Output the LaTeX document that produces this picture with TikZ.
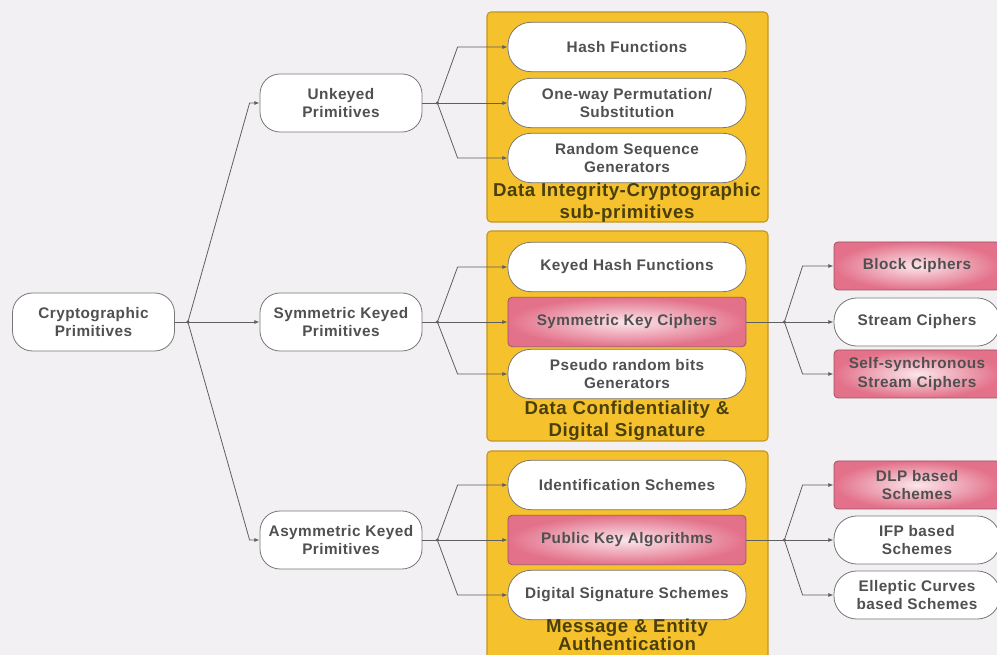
\documentclass[tikz,border=0pt]{standalone}
\usepackage{fontspec}
\setmainfont{Liberation Sans}[LetterSpace=3]
\usetikzlibrary{arrows.meta,calc}
\definecolor{bggray}{HTML}{F3F0F3}
\definecolor{boxline}{HTML}{777777}
\definecolor{txtgray}{HTML}{505050}
\definecolor{grpyellow}{HTML}{F5C12C}
\definecolor{grpline}{HTML}{C3951F}
\definecolor{grptext}{HTML}{4A3F0C}
\definecolor{keypink}{HTML}{E3718A}
\definecolor{keylight}{HTML}{FBE6EB}
\tikzset{
    every node/.style={font=\bfseries\fontsize{11.5}{14}\selectfont,text=txtgray,align=center},
    prim/.style={rectangle,rounded corners=15pt,draw=boxline,fill=white,semithick,minimum width=121.5pt,minimum height=43.5pt,inner sep=2pt},
    sub/.style={prim,rounded corners=17pt,minimum width=178.5pt,minimum height=37pt},
    keyed/.style={sub,rounded corners=3pt,draw=keypink!70!black,inner color=keylight,outer color=keypink},
    leaf/.style={prim,rounded corners=17pt,minimum width=124.5pt,minimum height=36pt},
    leafkey/.style={leaf,rounded corners=3pt,draw=keypink!70!black,inner color=keylight,outer color=keypink},
    group/.style={rectangle,rounded corners=3pt,draw=grpline,fill=grpyellow,thick,minimum width=210.75pt,minimum height=157.5pt},
    grplabel/.style={font=\bfseries\fontsize{14}{16.5}\selectfont,text=grptext},
    link/.style={draw=boxline!80!black,semithick},
    arr/.style={link,-{Latex[length=4pt,width=3pt]}},
    joint/.style={circle,fill=boxline!80!black,inner sep=0pt,minimum size=2.5pt}
}
\begin{document}
\begin{tikzpicture}[x=0.75pt,y=-0.75pt]
\fill[bggray] (0,0) rectangle (997,655);
\useasboundingbox (0,0) rectangle (997,655);

% yellow groups
\node[group] (g1) at (627.5,117) {};
\node[group] (g2) at (627.5,336) {};
\node[group] (g3) at (627.5,556) {};

% primitives
\node[prim] (root) at (93.5,322) {Cryptographic\\Primitives};
\node[prim] (unk) at (341,103) {Unkeyed\\Primitives};
\node[prim] (sym) at (341,322) {Symmetric Keyed\\Primitives};
\node[prim] (asym) at (341,540) {Asymmetric Keyed\\Primitives};

% sub-primitives
\node[sub] (hash) at (627,47) {Hash Functions};
\node[sub] (owp) at (627,103) {One-way Permutation/\\Substitution};
\node[sub] (rsg) at (627,158) {Random Sequence\\Generators};
\node[sub] (khash) at (627,267) {Keyed Hash Functions};
\node[keyed] (skc) at (627,322) {Symmetric Key Ciphers};
\node[sub] (prbg) at (627,374) {Pseudo random bits\\Generators};
\node[sub] (ids) at (627,485) {Identification Schemes};
\node[keyed] (pka) at (627,540) {Public Key Algorithms};
\node[sub] (dss) at (627,595) {Digital Signature Schemes};

\node[grplabel] (g1lab) at (627,203) {Data Integrity-Cryptographic\\sub-primitives};
\node[grplabel] (g2lab) at (627,421) {Data Confidentiality \&\\Digital Signature};
\node[grplabel,font=\bfseries\fontsize{14}{13.5}\selectfont] (g3lab) at (627,635) {Message \& Entity\\Authentication};

% leaves
\node[leafkey] (block) at (917,266) {Block Ciphers};
\node[leaf] (stream) at (917,322) {Stream Ciphers};
\node[leafkey] (selfsync) at (917,374) {Self-synchronous\\Stream Ciphers};
\node[leafkey] (dlp) at (917,485) {DLP based\\Schemes};
\node[leaf] (ifp) at (917,540) {IFP based\\Schemes};
\node[leaf] (ecc) at (917,595) {Elleptic Curves\\based Schemes};

% forks
\foreach \src/\up/\mid/\down/\gap/\bend in {root/unk/sym/asym/13/10,unk/hash/owp/rsg/15/50,sym/khash/skc/prbg/15/50,asym/ids/pka/dss/15/50,skc/block/stream/selfsync/38/31,pka/dlp/ifp/ecc/38/31}{
    \coordinate (j-\src) at ($(\src.east)+(\gap,0)$);
    \draw[link] (\src.east) -- (j-\src);
    \draw[arr] (j-\src) -- (\mid.west);
    \draw[arr] (j-\src) -- ($(\up.west)+(-\bend,0)$) -- (\up.west);
    \draw[arr] (j-\src) -- ($(\down.west)+(-\bend,0)$) -- (\down.west);
    \node[joint] (dot-\src) at (j-\src) {};
}
\end{tikzpicture}
\end{document}
